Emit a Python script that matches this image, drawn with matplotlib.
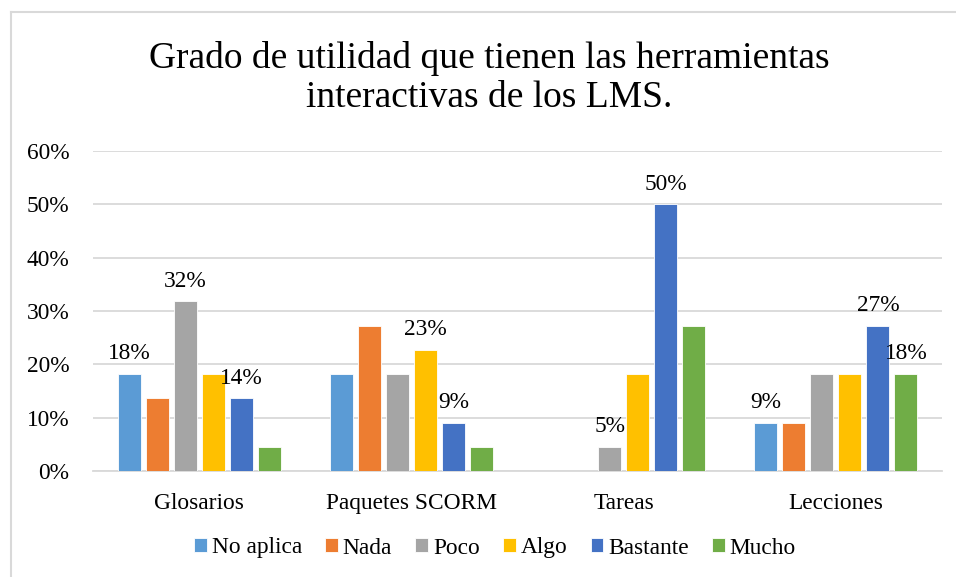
import numpy as np
import matplotlib.pyplot as plt
from matplotlib.lines import Line2D
from matplotlib.ticker import FuncFormatter

plt.rcParams['font.family'] = ['Liberation Serif', 'DejaVu Serif']

categorias = ['Glosarios', 'Paquetes SCORM', 'Tareas', 'Lecciones']
series = ['No aplica', 'Nada', 'Poco', 'Algo', 'Bastante', 'Mucho']
colores = ['#5B9BD5', '#ED7D31', '#A5A5A5', '#FFC000', '#4472C4', '#70AD47']

# porcentajes por serie (22 respuestas)
no_aplica = [18.18, 18.18, 0.0, 9.09]
nada = [13.64, 27.27, 0.0, 9.09]
poco = [31.82, 18.18, 4.55, 18.18]
algo = [18.18, 22.73, 18.18, 18.18]
bastante = [13.64, 9.09, 50.0, 27.27]
mucho = [4.55, 4.55, 27.27, 18.18]
valores = [no_aplica, nada, poco, algo, bastante, mucho]

# etiquetas visibles (serie, categoria)
etiquetas = [(0, 0), (2, 0), (4, 0), (3, 1), (4, 1), (2, 2), (4, 2), (0, 3), (4, 3), (5, 3)]

fs = 16.8

fig = plt.figure(figsize=(9.56, 5.77), dpi=100)
ax = fig.add_axes([93 / 956, 1 - 471 / 577, 849 / 956, 320 / 577])

x = np.arange(len(categorias))
paso = 28 / 212
ancho = 23 / 212
for i, (nombre, vals, c) in enumerate(zip(series, valores, colores)):
    pos = x + (i - 2.5) * paso
    ax.bar(pos, vals, width=ancho, color=c, label=nombre,
           edgecolor='white', linewidth=0.6, zorder=3)

for s, k in etiquetas:
    v = valores[s][k]
    ax.text(x[k] + (s - 2.5) * paso, v + 1.8, f'{round(v):.0f}%',
            ha='center', va='bottom', fontsize=fs, zorder=4)

ax.set_xlim(-0.5, len(categorias) - 0.5)
ax.set_ylim(0, 60)
ax.set_yticks(np.arange(0, 61, 10))
ax.yaxis.set_major_formatter(FuncFormatter(lambda v, p: f'{v:.0f}%'))
ax.set_xticks(x)
ax.set_xticklabels(categorias)
ax.tick_params(axis='both', length=0, labelsize=fs)
ax.tick_params(axis='y', pad=17)
ax.tick_params(axis='x', pad=15.5)
ax.grid(axis='y', color='#D9D9D9', linewidth=1.3, zorder=0)
for lado in ['top', 'right', 'left']:
    ax.spines[lado].set_visible(False)
ax.spines['bottom'].set_color('#D9D9D9')
ax.spines['bottom'].set_linewidth(1.3)

fig.text(489 / 956, 1 - 78 / 577,
         'Grado de utilidad que tienen las herramientas\ninteractivas de los LMS.',
         ha='center', va='center', fontsize=27, linespacing=1.2)

fig.legend(loc='center', bbox_to_anchor=(495 / 956, 1 - 548 / 577), ncol=6,
           frameon=False, fontsize=fs, handlelength=0.55, handleheight=0.55,
           handletextpad=0.2, columnspacing=1.0)

# marco del grafico
fig.add_artist(Line2D([10.5 / 956, 10.5 / 956], [0, 1 - 11.5 / 577],
                      color='#D9D9D9', linewidth=1.5))
fig.add_artist(Line2D([10.5 / 956, 1], [1 - 11.5 / 577, 1 - 11.5 / 577],
                      color='#D9D9D9', linewidth=1.5))

fig.savefig('out.png', dpi=100)
